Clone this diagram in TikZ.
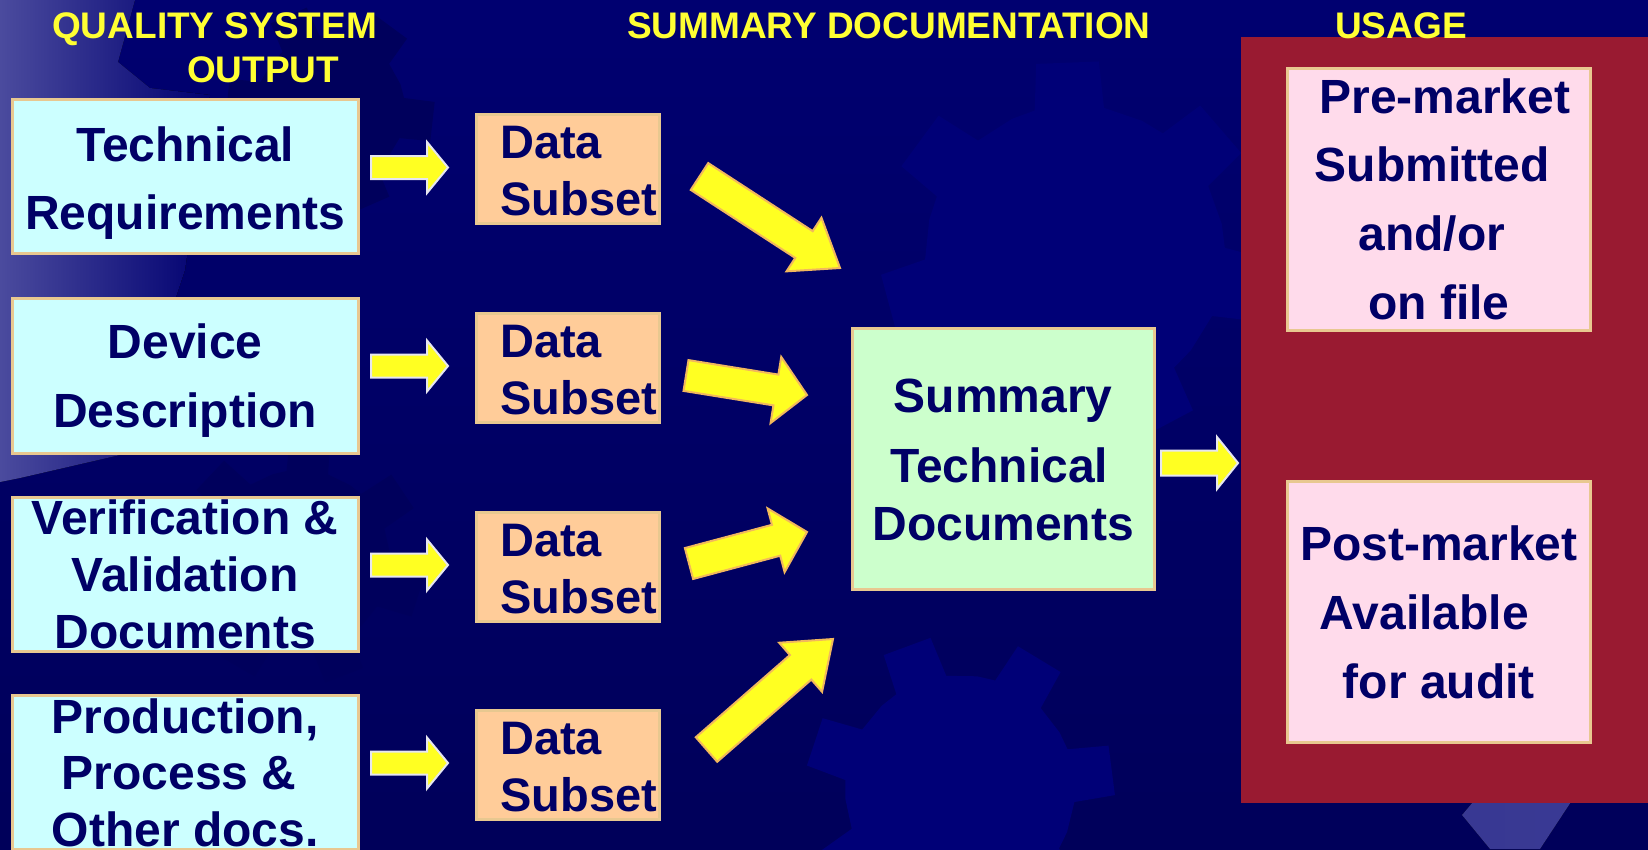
\documentclass[tikz,border=0pt]{standalone}
\usepackage{fontspec}
\setmainfont{Liberation Sans}
\usetikzlibrary{calc}
\definecolor{bgtop}{HTML}{000070}
\definecolor{bgbot}{HTML}{00005A}
\definecolor{gearlight}{HTML}{000077}
\definecolor{geardark}{HTML}{00005C}
\definecolor{hazy}{HTML}{4B4B9E}
\definecolor{txtnavy}{HTML}{000066}
\definecolor{hdryellow}{HTML}{FFFF33}
\definecolor{boxedge}{HTML}{E8C890}
\definecolor{cyanfill}{HTML}{CCFFFF}
\definecolor{peachfill}{HTML}{FFCC99}
\definecolor{greenfill}{HTML}{CCFFCC}
\definecolor{pinkfill}{HTML}{FFDBEB}
\definecolor{redpanel}{HTML}{991A31}
\definecolor{arrowyellow}{HTML}{FFFF22}
\definecolor{arrowedgeA}{HTML}{E6E6F0}
\definecolor{arrowedgeB}{HTML}{F2B85C}
\newcommand\blockarrow[6]{%
  \path ($(#3)!#6!(#2)$) coordinate (bac);
  \filldraw[#1] ($(#2)!#4!90:(#3)$) -- ($(bac)!#4!-90:(#2)$) -- ($(bac)!#5!-90:(#2)$) -- (#3)
     -- ($(bac)!#5!90:(#2)$) -- ($(bac)!#4!90:(#2)$) -- ($(#2)!#4!-90:(#3)$) -- cycle;
}
\newcommand\gearfill[6]{% color, center, inner r, outer r, teeth, rotation
  \pgfmathsetmacro\gstep{360/#5}
  \fill[#1, shift={(#2)}, rotate=#6] (0:#3)
    \foreach \gi in {1,...,#5}{
      -- ({(\gi-1)*\gstep+0.18*\gstep}:#3) -- ({(\gi-1)*\gstep+0.26*\gstep}:#4)
      -- ({(\gi-1)*\gstep+0.62*\gstep}:#4) -- ({(\gi-1)*\gstep+0.70*\gstep}:#3)
      -- ({\gi*\gstep}:#3)} -- cycle;
}
\tikzset{
  box/.style={draw=boxedge, line width=2.5pt, inner sep=0pt, anchor=north west,
    text=txtnavy, align=center},
  bigtext/.style={font=\bfseries\fontsize{48}{#1}\selectfont},
  datatext/.style={font=\bfseries\fontsize{47}{57}\selectfont},
  hdr/.style={text=hdryellow, inner sep=0pt, font=\bfseries\fontsize{37}{44}\selectfont},
  harrow/.style={fill=arrowyellow, draw=arrowedgeA, line width=2pt},
  darrow/.style={fill=arrowyellow, draw=arrowedgeB, line width=2pt},
}
\begin{document}
\begin{tikzpicture}[x=1pt,y=-1pt]
\useasboundingbox (0,0) rectangle (1648,849);
% background
\fill[top color=bgtop, bottom color=bgbot] (0,0) rectangle (1648,849);
\gearfill{gearlight}{1075,255}{150}{195}{7}{12}
\gearfill{gearlight}{960,790}{115}{155}{7}{30}
\gearfill{geardark}{300,560}{90}{125}{7}{5}
\gearfill{geardark}{330,110}{75}{105}{6}{20}
\fill[left color=hazy, right color=bgtop] (0,0) -- (135,0) -- (118,62) -- (150,88) -- (210,95)
  -- (185,270) -- (175,300) -- (150,330) -- (120,455) -- (20,478) -- (0,482) -- cycle;
\fill[left color=hazy!75!bgtop, right color=hazy!110] (1462,815) -- (1500,770) -- (1592,770) -- (1540,849) -- (1490,849) -- cycle;

% headers
\node[hdr, anchor=north west, align=left, text height=72pt, text depth=0pt] (h1) at (52,10)
  {QUALITY SYSTEM\\\hspace*{135pt}OUTPUT};
\node[hdr, anchor=base west] (h2) at (627,38) {SUMMARY DOCUMENTATION};

% usage panel
\fill[redpanel] (1241,37) rectangle (1650,803);
\node[hdr, anchor=base west] (h3) at (1335,38) {USAGE};

% left column
\node[box, fill=cyanfill, bigtext=68, minimum width=346pt, text height=130pt, text depth=24pt] (q1) at (11,98)
  {Technical\\Requirements};
\node[box, fill=cyanfill, bigtext=69, minimum width=346pt, text height=129pt, text depth=26pt] (q2) at (11,297)
  {Device\\Description};
\node[box, fill=cyanfill, bigtext=57, minimum width=346pt, text height=151pt, text depth=3pt] (q3) at (11,496)
  {Verification \&\\Validation\\Documents};
\node[box, fill=cyanfill, bigtext=56.5, minimum width=346pt, text height=151pt, text depth=3pt] (q4) at (11,694)
  {Production,\\Process \&\kern12pt\\Other docs.};

% data subsets
\foreach \n/\yy in {1/113, 2/312, 3/511, 4/709}{
  \node[box, fill=peachfill, datatext, align=left, text width=183pt, text height=44pt, text depth=65pt] (d\n) at (475,\yy)
    {\hspace*{24pt}Data\\\hspace*{24pt}Subset};
}

% summary
\node[box, fill=greenfill, bigtext=58, minimum width=302pt, text height=212pt, text depth=49pt] (s) at (851,327)
  {Summary\\[12pt]Technical\kern8pt\\Documents};

% usage boxes
\node[box, fill=pinkfill, bigtext=68.7, minimum width=303pt, text height=251pt, text depth=11pt] (pre) at (1286,67)
  {\hspace*{12pt}Pre-market\\Submitted\kern13pt\\and/or\kern14pt\\on file};
\node[box, fill=pinkfill, bigtext=69, minimum width=303pt, text height=217pt, text depth=44pt] (post) at (1286,480)
  {Post-market\\Available\kern29pt\\for audit};

% arrow end points
\coordinate (qa1) at (371,167.5);
\coordinate (qb1) at (448,167.5);
\coordinate (qa2) at (371,366);
\coordinate (qb2) at (448,366);
\coordinate (qa3) at (371,565);
\coordinate (qb3) at (448,565);
\coordinate (qa4) at (371,763);
\coordinate (qb4) at (448,763);
\coordinate (sa) at (1161,463);
\coordinate (sb) at (1238,463);
\coordinate (da1) at (699.5,176.5);
\coordinate (db1) at (840,268);
\coordinate (da2) at (686,375.5);
\coordinate (db2) at (807,395);
\coordinate (da3) at (689,563.5);
\coordinate (db3) at (807,532);
\coordinate (da4) at (706.5,749.5);
\coordinate (db4) at (833,639);

\foreach \n in {1,2,3,4}{
  \blockarrow{harrow}{qa\n}{qb\n}{11.5pt}{25.5pt}{21pt}
}
\blockarrow{harrow}{sa}{sb}{12.5pt}{26pt}{21pt}
\blockarrow{darrow}{da1}{db1}{16pt}{32pt}{43pt}
\blockarrow{darrow}{da2}{db2}{15.6pt}{33.5pt}{31.5pt}
\blockarrow{darrow}{da3}{db3}{16pt}{33pt}{32pt}
\blockarrow{darrow}{da4}{db4}{16.3pt}{32.6pt}{43pt}
\end{tikzpicture}
\end{document}
